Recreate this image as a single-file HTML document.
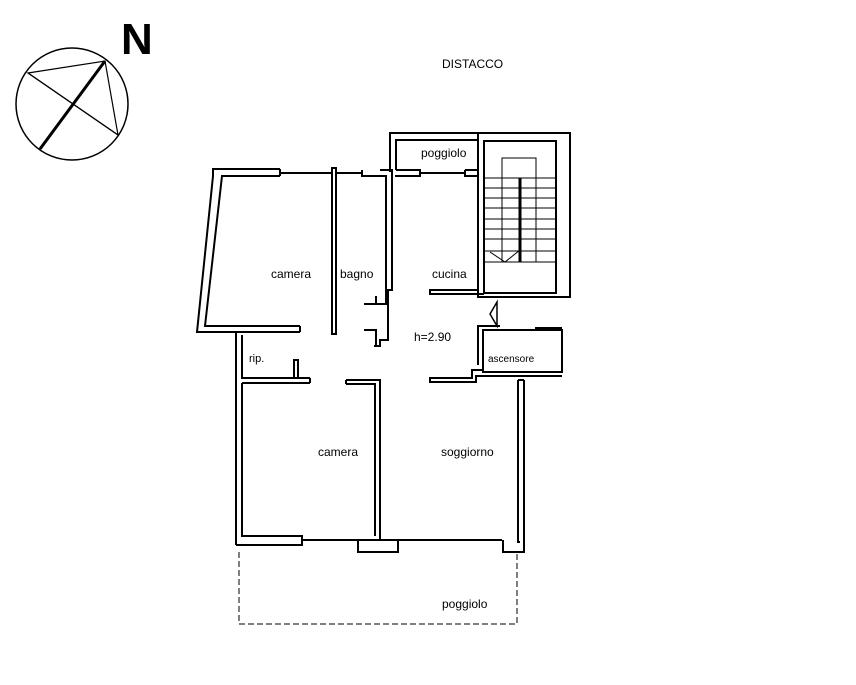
<!DOCTYPE html>
<html><head><style>
html,body{margin:0;padding:0;background:#fff;}
svg{display:block}
text{font-family:"Liberation Sans",Arial,sans-serif;fill:#000}
</style></head><body>
<svg width="856" height="685" viewBox="0 0 856 685" xmlns="http://www.w3.org/2000/svg">
<g fill="none" stroke="#000" stroke-width="2">
<!-- compass -->
<circle cx="72" cy="104" r="56" stroke-width="1.5"/>
<polygon points="28,73 105,61 118,135" stroke-width="1.2"/>
<line x1="28" y1="73" x2="118" y2="135" stroke-width="1.2"/>
<line x1="105" y1="61" x2="40" y2="149" stroke-width="3"/>

<!-- camera top-left -->
<polyline points="280,169 213,169 213,176 197,332 300,332"/>
<polyline points="280,176 222,176 205,326 300,326"/>
<line x1="300" y1="326" x2="300" y2="332"/>
<line x1="280" y1="169" x2="280" y2="176"/>
<line x1="280" y1="173" x2="332" y2="173"/>
<!-- bagno walls -->
<rect x="332" y="168" width="4" height="166"/>
<polyline points="362,170 362,176 386,176 386,304 374,304"/>
<polyline points="380,170 392,170 392,290 388,290 388,340 380,340 380,346 374,346"/>
<polyline points="364,304 376,304 376,296"/>
<polyline points="364,330 376,330 376,346"/>
<line x1="336" y1="173" x2="362" y2="173"/>
<!-- upper poggiolo -->
<polyline points="390,172 390,133 478,133"/>
<polyline points="396,170 396,140 478,140"/>
<polyline points="396,170 420,170 420,176 408,176"/>
<polyline points="412,176 395,176"/>
<polyline points="420,173 465,173"/>
<polyline points="465,170 478,170 478,176 465,176 465,170"/>
<!-- stair block -->
<rect x="478" y="133" width="92" height="164"/>
<rect x="484" y="141" width="72" height="152"/>
<polyline points="484,293 484,170"/>
<rect x="502" y="158" width="34" height="104" stroke-width="1"/>
<g stroke-width="1">
<line x1="484" y1="178" x2="556" y2="178"/><line x1="484" y1="188" x2="556" y2="188"/>
<line x1="484" y1="198" x2="556" y2="198"/><line x1="484" y1="208" x2="556" y2="208"/>
<line x1="484" y1="219" x2="556" y2="219"/><line x1="484" y1="229" x2="556" y2="229"/>
<line x1="484" y1="239" x2="556" y2="239"/><line x1="484" y1="251" x2="556" y2="251"/>
<line x1="484" y1="262" x2="556" y2="262"/>
<line x1="520" y1="178" x2="520" y2="262" stroke-width="3"/>
<polyline points="490,252 505,262 520,250"/>
</g>
<!-- kitchen -->
<polyline points="478,170 478,290 430,290 430,294 484,294"/>
<!-- arrow triangle -->
<polygon points="490,314 497,302 497,326" stroke-width="1.5"/>
<!-- elevator -->
<polyline points="506,330 483,330 483,370 472,370 472,378 430,378 430,382 476,382 476,376 518,376"/>
<polyline points="500,326 478,326 478,365"/>
<rect x="483" y="330" width="79" height="42"/>
<polyline points="535,328 562,328"/>
<line x1="518" y1="376" x2="562" y2="376"/>
<!-- rip -->
<polyline points="242,335 242,378 298,378 298,360 294,360 294,378"/>
<polyline points="236,332 236,545"/>
<polyline points="242,383 242,536 302,536 302,545 236,545"/>
<line x1="298" y1="383" x2="242" y2="383"/>
<line x1="298" y1="378" x2="310" y2="378"/>
<line x1="298" y1="383" x2="310" y2="383"/>
<line x1="310" y1="378" x2="310" y2="383"/>
<!-- lower camera / soggiorno -->
<polyline points="346,380 380,380 380,540"/>
<polyline points="346,384 375,384 375,536"/>
<line x1="346" y1="380" x2="346" y2="384"/>
<line x1="302" y1="540" x2="358" y2="540"/>
<rect x="358" y="540" width="40" height="12"/>
<line x1="398" y1="540" x2="502" y2="540"/>
<polyline points="518,380 518,542 520,542"/>
<polyline points="524,380 524,552 503,552 503,540"/>
<line x1="518" y1="380" x2="524" y2="380"/>
<!-- bottom poggiolo -->
<polyline points="239,552 239,624 517,624 517,552" stroke-width="1" stroke-dasharray="6,3"/>
</g>
<text x="121" y="54" font-size="44" font-weight="bold">N</text>
<text x="442" y="68" font-size="12">DISTACCO</text>
<text x="421" y="157" font-size="12">poggiolo</text>
<text x="271" y="278" font-size="12">camera</text>
<text x="340" y="278" font-size="12">bagno</text>
<text x="432" y="278" font-size="12">cucina</text>
<text x="414" y="341" font-size="12">h=2.90</text>
<text x="249" y="362" font-size="11">rip.</text>
<text x="488" y="362" font-size="10">ascensore</text>
<text x="318" y="456" font-size="12">camera</text>
<text x="441" y="456" font-size="12">soggiorno</text>
<text x="442" y="608" font-size="12">poggiolo</text>
</svg>
</body></html>
